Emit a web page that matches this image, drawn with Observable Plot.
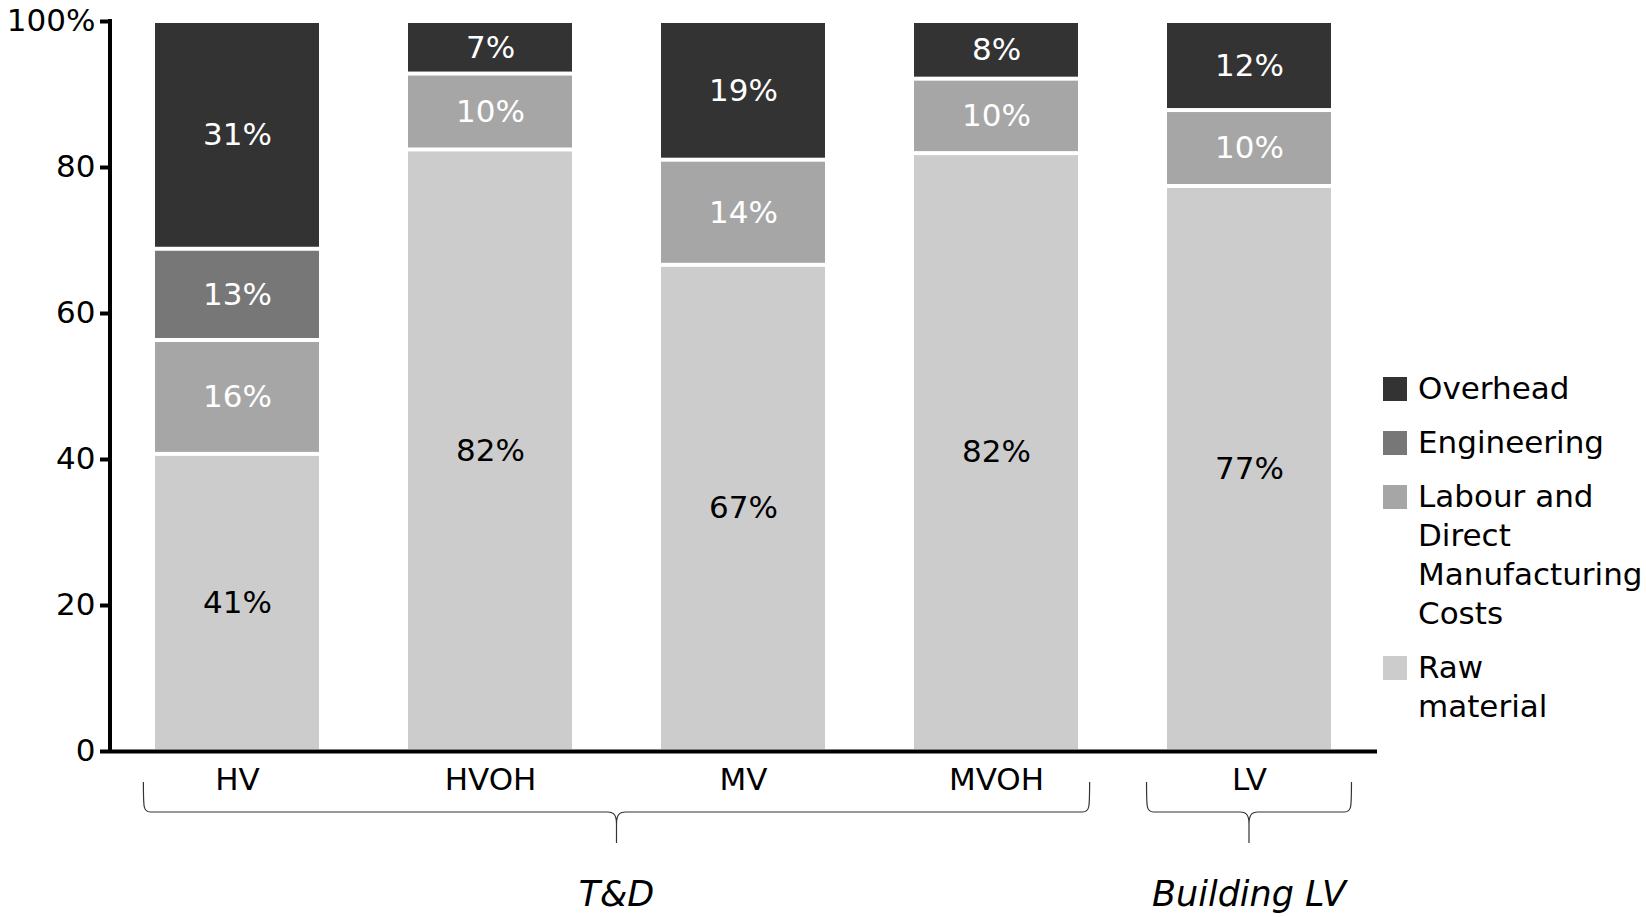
<!DOCTYPE html>
<html><head><meta charset="utf-8">
<script src="https://cdn.jsdelivr.net/npm/d3@7"></script>
<script src="https://cdn.jsdelivr.net/npm/@observablehq/plot@0.6"></script>
<style>
body{margin:0;background:#fff;font-family:"DejaVu Sans",Verdana,sans-serif;}
#wrap{position:relative;width:1646px;height:917px;overflow:hidden;}
#legend{position:absolute;left:1383px;top:369px;font-size:31px;line-height:39px;color:#000;}
.item{display:flex;align-items:flex-start;margin-bottom:15px;}
.sw{width:24px;height:24px;margin-top:7.5px;margin-right:11px;flex:none;}
</style></head><body><div id="wrap"></div>
<script>
const categories = ["HV", "HVOH", "MV", "MVOH", "LV"];
const layers = ["Overhead", "Engineering", "Labour and Direct Manufacturing Costs", "Raw material"];
const legendLines = [["Overhead"], ["Engineering"], ["Labour and", "Direct", "Manufacturing", "Costs"], ["Raw", "material"]];
const colors = ["#333333", "#777777", "#a6a6a6", "#cccccc"];
const overhead    = [31.2, 7.2, 19.0, 7.9, 12.2];
const engineering = [12.5, 0, 0, 0, 0];
const labour      = [15.6, 10.4, 14.4, 10.2, 10.4];
const raw         = [40.7, 82.4, 66.6, 81.9, 77.4];
const yTicks = [0, 20, 40, 60, 80, 100];
const groups = ["T&D", "Building LV"];
const groupFirst = ["HV", "LV"];
const groupLast = ["MVOH", "LV"];
const groupExtent = [0.37, 0.405];

const series = {"Overhead": overhead, "Engineering": engineering,
  "Labour and Direct Manufacturing Costs": labour, "Raw material": raw};
const stackOrder = ["Raw material", "Labour and Direct Manufacturing Costs", "Engineering", "Overhead"];
const rows = [];
categories.forEach((c, i) => {
  stackOrder.forEach(l => { if (series[l][i] > 0) rows.push({category: c, layer: l, value: series[l][i]}); });
});
const pct = v => Math.round(v) + "%";
const font = '"DejaVu Sans", Verdana, sans-serif';

const plot = Plot.plot({
  width: 1646, height: 917, marginTop: 21, marginLeft: 110, marginRight: 269, marginBottom: 166,
  style: {fontFamily: font, fontSize: "31px", background: "white", color: "black", overflow: "visible"},
  x: {domain: categories, paddingInner: 0.35, paddingOuter: 0.175, label: null},
  y: {domain: [0, 100], label: null},
  color: {domain: layers, range: colors},
  marks: [
    Plot.barY(rows, {x: "category", y: "value", fill: "layer", z: "layer", order: stackOrder, insetTop: 2, insetBottom: 2}),
    Plot.text(rows, Plot.stackY({x: "category", y: "value", z: "layer", order: stackOrder,
      text: d => d.layer === "Raw material" ? pct(d.value) : null, fill: "black", fontSize: 31})),
    Plot.text(rows, Plot.stackY({x: "category", y: "value", z: "layer", order: stackOrder,
      text: d => d.layer !== "Raw material" ? pct(d.value) : null, fill: "white", fontSize: 31})),
    Plot.ruleY([0], {strokeWidth: 4}),
    Plot.axisY({ticks: yTicks, tickFormat: d => d === 100 ? "100%" : String(d), tickSize: 10, tickPadding: 5, strokeWidth: 4, fontSize: 31, label: null}),
    Plot.axisX({tickSize: 0, tickPadding: 16, fontSize: 31, label: null})
  ]
});
document.getElementById("wrap").appendChild(plot);

// y axis line, braces and group labels, placed through the plot's scales
const xs = plot.scale("x"), ys = plot.scale("y");
const svg = d3.select(plot.tagName === "svg" ? plot : plot.querySelector("svg"));
const y0 = ys.apply(0), y100 = ys.apply(100);
svg.append("line").attr("x1", xs.range[0]).attr("x2", xs.range[0])
  .attr("y1", y100 - 2).attr("y2", y0 + 2).attr("stroke", "black").attr("stroke-width", 4);
const center = c => xs.apply(c) + xs.bandwidth / 2;
groups.forEach((g, i) => {
  const x1 = center(groupFirst[i]) - groupExtent[i] * xs.step;
  const x2 = center(groupLast[i]) + groupExtent[i] * xs.step;
  const cx = (x1 + x2) / 2;
  const top = y0 + 31, mid = y0 + 61, tip = y0 + 92;
  const p = `M${x1},${top} C${x1},${mid - 4} ${x1},${mid} ${x1 + 7},${mid} L${cx - 9},${mid} C${cx - 2},${mid} ${cx},${mid + 4} ${cx},${mid + 12} L${cx},${tip}` +
            ` M${cx},${mid + 12} C${cx},${mid + 4} ${cx + 2},${mid} ${cx + 9},${mid} L${x2 - 7},${mid} C${x2},${mid} ${x2},${mid - 4} ${x2},${top}`;
  svg.append("path").attr("d", p).attr("fill", "none").attr("stroke", "#333").attr("stroke-width", 1.2);
  svg.append("text").attr("x", cx).attr("y", y0 + 155).attr("text-anchor", "middle")
    .attr("font-family", font).attr("font-size", 35).attr("font-style", "italic").attr("fill", "black").text(g);
});

// legend
const legend = document.createElement("div");
legend.id = "legend";
layers.forEach((l, i) => {
  const item = document.createElement("div"); item.className = "item";
  const sw = document.createElement("div"); sw.className = "sw"; sw.style.background = colors[i];
  const t = document.createElement("div"); t.innerHTML = legendLines[i].join("<br>");
  item.appendChild(sw); item.appendChild(t); legend.appendChild(item);
});
document.getElementById("wrap").appendChild(legend);
</script></body></html>
